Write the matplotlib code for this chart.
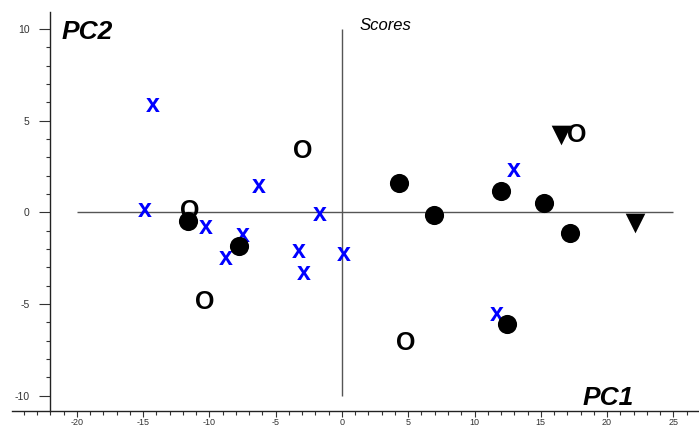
import matplotlib
matplotlib.use("Agg")
import matplotlib.pyplot as plt
from matplotlib.ticker import MultipleLocator

# scores, one group per symbol
cross_pc1 = [-14.3, -14.9, -10.3, -7.45, -8.75, -6.26, -1.66, -3.25, -2.92, 0.15, 12.93, 11.67]
cross_pc2 = [5.96, 0.29, -0.64, -1.09, -2.33, 1.58, 0.03, -1.96, -3.18, -2.11, 2.45, -5.42]

ring_pc1 = [-3.0, -11.47, -10.34, 4.83, 17.7]
ring_pc2 = [3.36, 0.07, -4.87, -7.14, 4.21]

dot_pc1 = [-11.65, -7.8, 4.33, 6.97, 11.97, 15.27, 17.2, 12.43]
dot_pc2 = [-0.47, -1.82, 1.58, -0.15, 1.18, 0.52, -1.14, -6.1]

tri_pc1 = [16.5, 22.1]
tri_pc2 = [4.21, -0.6]

x_ticks = [-20, -15, -10, -5, 0, 5, 10, 15, 20, 25]
y_ticks = [-10, -5, 0, 5, 10]

plt.rcParams["font.family"] = ["Liberation Sans", "DejaVu Sans"]
plt.rcParams["axes.unicode_minus"] = False

fig = plt.figure(figsize=(6.99, 4.29), dpi=100)
# spine sits a few pixels higher than in the scan so the x labels fit
ax = fig.add_axes([12 / 699, 18 / 429, 1 - 12 / 699, (429 - 18 - 12) / 429])
ax.set_xlim(-24.9, 26.94)
ax.set_ylim(-10.83, 10.92)

# axis cross through the origin
ax.hlines(0, -20, 25, color="#555555", lw=1.0, zorder=1)
ax.vlines(0, -10, 10, color="#555555", lw=1.0, zorder=1)

for x, y in zip(cross_pc1, cross_pc2):
    ax.text(x, y, "x", color="#0000ff", fontsize=18, fontweight="bold",
            ha="center", va="center_baseline", zorder=2)
for x, y in zip(ring_pc1, ring_pc2):
    ax.text(x, y, "O", color="black", fontsize=18, fontweight="bold",
            ha="center", va="center", zorder=2)

ax.scatter(tri_pc1, tri_pc2, marker="v", s=200, color="black", lw=0, zorder=3)
ax.scatter(dot_pc1, dot_pc2, marker="o", s=190, color="black", lw=0, zorder=4)

ax.spines["top"].set_visible(False)
ax.spines["right"].set_visible(False)
ax.spines["left"].set_position(("data", -22))
for side in ["left", "bottom"]:
    ax.spines[side].set_color("#222222")
    ax.spines[side].set_linewidth(1.0)

ax.set_xticks(x_ticks)
ax.set_yticks(y_ticks)
ax.xaxis.set_minor_locator(MultipleLocator(1))
ax.yaxis.set_minor_locator(MultipleLocator(1))
ax.tick_params(axis="y", which="major", length=8, width=0.8, pad=7,
               labelsize=7.5, colors="#333333")
ax.tick_params(axis="y", which="minor", length=3, width=0.8, colors="#333333")
ax.tick_params(axis="x", which="major", length=4, width=0.8, pad=1,
               labelsize=6.5, colors="#333333")
ax.tick_params(axis="x", which="minor", length=3, width=0.8, colors="#333333")

fig.text(62 / 699, 1 - 39 / 429, "PC2", fontsize=19, fontweight="bold",
         style="italic", ha="left", va="baseline")
fig.text(583 / 699, 1 - 405 / 429, "PC1", fontsize=19, fontweight="bold",
         style="italic", ha="left", va="baseline")
fig.text(360 / 699, 1 - 30 / 429, "Scores", fontsize=12, style="italic",
         ha="left", va="baseline")

fig.savefig("out.png", dpi=100)
